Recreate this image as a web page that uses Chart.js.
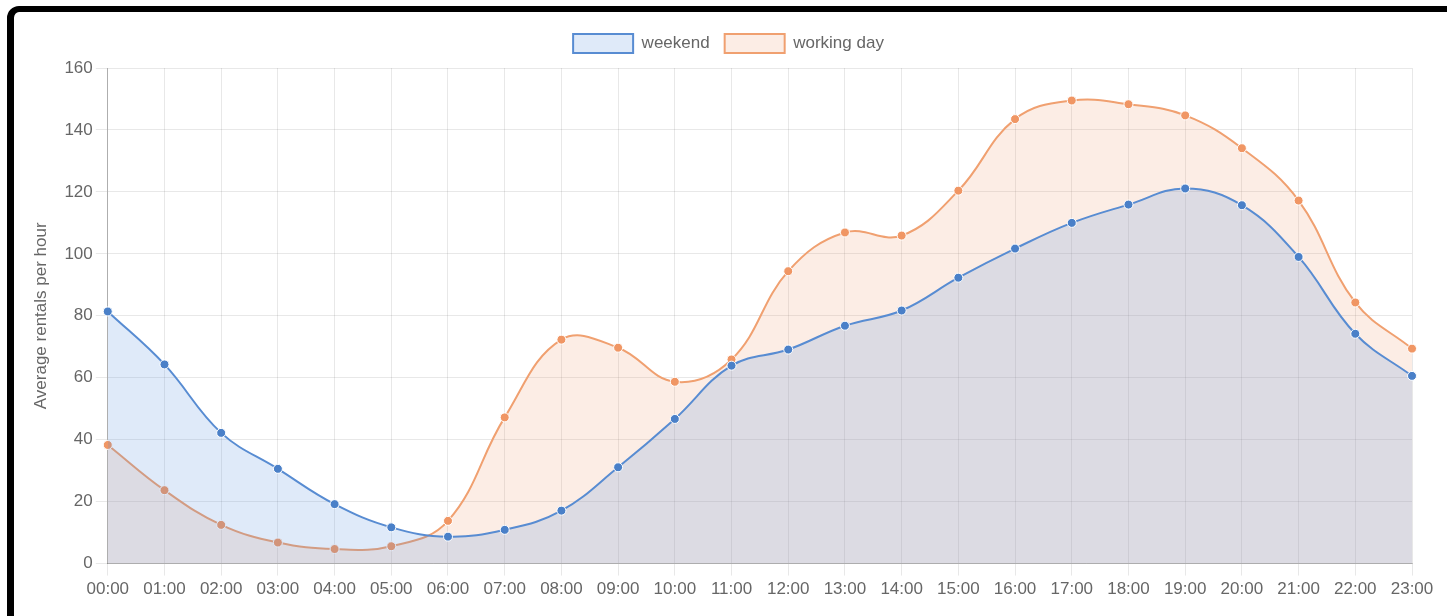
<!DOCTYPE html>
<html>
<head>
<meta charset="utf-8">
<script src="https://cdn.jsdelivr.net/npm/chart.js@4"></script>
<style>
    html, body { margin: 0; padding: 0; background: #fff; overflow: hidden; }
    #wrap { position: relative; width: 1447px; height: 616px; }
    #frame {
        position: absolute; left: 7px; top: 6px; width: 1500px; height: 700px;
        border: 6px solid #000; border-left-width: 7px; border-radius: 12px;
        box-sizing: border-box; pointer-events: none;
    }
    canvas { position: absolute; left: 0; top: 0; }
</style>
</head>
<body>
<div id="wrap">
    <canvas id="RentalsChart" width="1447" height="616"></canvas>
    <div id="frame"></div>
</div>
<script>
const hours = [
    '00:00', '01:00', '02:00', '03:00', '04:00', '05:00', '06:00', '07:00', '08:00', '09:00',
    '10:00', '11:00', '12:00', '13:00', '14:00', '15:00', '16:00', '17:00', '18:00', '19:00',
    '20:00', '21:00', '22:00', '23:00'
];
const weekend = [
    81.4, 64.3, 42.2, 30.6, 19.2, 11.7, 8.7, 10.9, 17.1, 31.1, 46.7, 63.9,
    69.1, 76.8, 81.7, 92.3, 101.7, 110.0, 115.9, 121.1, 115.7, 99.0, 74.2, 60.6
];
const workingDay = [
    38.3, 23.7, 12.5, 6.8, 4.7, 5.6, 13.8, 47.2, 72.3, 69.7, 58.7, 65.9,
    94.4, 106.9, 105.9, 120.4, 143.5, 149.5, 148.3, 144.7, 134.1, 117.2, 84.3, 69.4
];

Chart.defaults.font.family = "'Liberation Sans', Arial, sans-serif";
Chart.defaults.font.size = 17;
Chart.defaults.color = '#666';

// a bit more room under the legend, and nudge it to the right like the original
const legendSpacing = {
    id: 'legendSpacing',
    beforeInit(chart) {
        const fit = chart.legend.fit;
        chart.legend.fit = function () {
            fit.bind(chart.legend)();
            this.height += 5;
        };
    },
    afterLayout(chart) {
        chart.legend.left += 7;
        chart.legend.right += 7;
    }
};

const ctx = document.getElementById('RentalsChart');
const RentalsChart = new Chart(ctx, {
    type: 'line',
    data: {
        labels: hours,
        datasets: [
            {
                label: 'weekend',
                data: weekend,
                borderColor: 'rgb(88,140,210)',
                backgroundColor: 'rgba(75,140,220,0.18)',
                pointBackgroundColor: 'rgb(74,128,200)',
                pointBorderColor: '#fff',
                pointBorderWidth: 1,
                pointRadius: 4.5,
                borderWidth: 2,
                tension: 0.4,
                fill: 'origin'
            },
            {
                label: 'working day',
                data: workingDay,
                borderColor: 'rgb(240,160,112)',
                backgroundColor: 'rgba(240,150,100,0.17)',
                pointBackgroundColor: 'rgb(240,150,100)',
                pointBorderColor: '#fff',
                pointBorderWidth: 1,
                pointRadius: 4.5,
                borderWidth: 2,
                tension: 0.4,
                fill: 'origin'
            }
        ]
    },
    options: {
        responsive: false,
        animation: false,
        layout: {
            padding: { left: 31, top: 19, right: 35, bottom: 12 }
        },
        plugins: {
            legend: {
                display: true,
                position: 'top',
                labels: {
                    boxWidth: 60,
                    boxHeight: 19,
                    padding: 15
                }
            },
            tooltip: { enabled: false }
        },
        scales: {
            x: {
                grid: { color: 'rgba(0,0,0,0.09)', tickLength: 12 },
                border: { color: 'rgba(0,0,0,0.25)' },
                ticks: { maxRotation: 0, autoSkip: false, padding: 4 }
            },
            y: {
                min: 0,
                max: 160,
                grid: { color: 'rgba(0,0,0,0.09)', tickLength: 12 },
                border: { color: 'rgba(0,0,0,0.25)' },
                ticks: { stepSize: 20, padding: 3 },
                title: {
                    display: true,
                    text: 'Average rentals per hour',
                    padding: { top: 0, bottom: 10 }
                }
            }
        }
    },
    plugins: [legendSpacing]
});
</script>
</body>
</html>
